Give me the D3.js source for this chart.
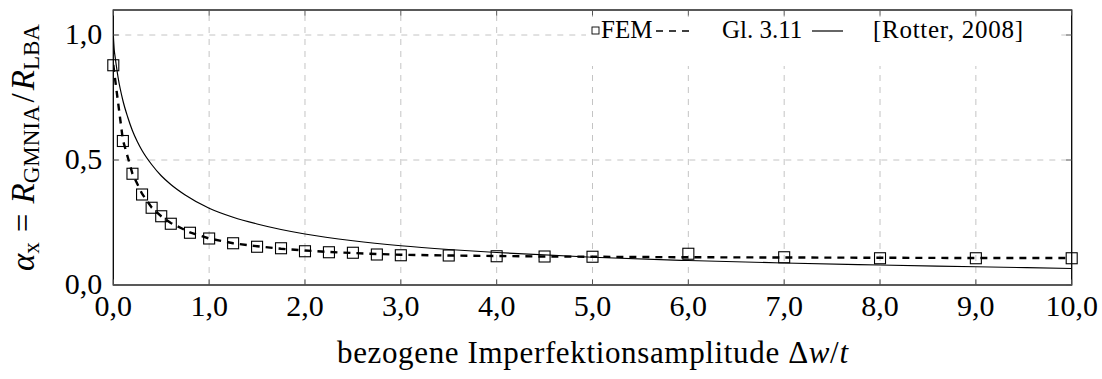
<!DOCTYPE html>
<html>
<head>
<meta charset="utf-8">
<script src="https://cdn.jsdelivr.net/npm/d3@7"></script>
<style>
html,body{margin:0;padding:0;background:#fff;}
svg{display:block;}
text{fill:#000;}
</style>
</head>
<body>
<svg id="c" width="1102" height="379" font-family="'Liberation Serif','Times New Roman',Times,serif"></svg>
<script>
// ---- data ----
const xTicks = [0,1,2,3,4,5,6,7,8,9,10];
const xTickLabels = ["0,0","1,0","2,0","3,0","4,0","5,0","6,0","7,0","8,0","9,0","10,0"];
const yTicks = [0,0.5,1.0];
const yTickLabels = ["0,0","0,5","1,0"];

const femX = [0,0.1,0.2,0.3,0.4,0.5,0.6,0.8,1.0,1.25,1.5,1.75,2.0,2.25,2.5,2.75,3.0,3.5,4.0,4.5,5.0,6.0,7.0,8.0,9.0,10.0];
const femY = [0.879,0.576,0.445,0.362,0.309,0.275,0.245,0.209,0.186,0.167,0.153,0.147,0.135,0.131,0.129,0.122,0.119,0.118,0.115,0.114,0.113,0.125,0.111,0.107,0.107,0.107];

const glX = [0,0.1,0.2,0.3,0.4,0.5,0.6,0.8,1.0,1.25,1.5,1.75,2.0,2.25,2.5,2.75,3.0,3.5,4.0,4.5,5.0,6.0,7.0,8.0,9.0,10.0];
const glY = [0.88,0.58,0.445,0.365,0.31,0.275,0.248,0.21,0.186,0.167,0.155,0.145,0.138,0.132,0.128,0.124,0.121,0.118,0.116,0.114,0.113,0.111,0.110,0.109,0.108,0.108];

const rotterX = [0,0.01,0.02,0.05,0.1,0.15,0.2,0.25,0.3,0.4,0.5,0.6,0.75,1.0,1.25,1.5,1.75,2.0,2.5,3.0,3.5,4.0,5.0,6.0,7.0,8.0,9.0,10.0];
const rotterY = [1.0,0.94,0.91,0.83,0.738,0.672,0.617,0.574,0.538,0.482,0.437,0.402,0.36,0.307,0.271,0.244,0.222,0.204,0.177,0.157,0.142,0.130,0.111,0.098,0.088,0.080,0.073,0.066];

const legendLabels = ["FEM","Gl. 3.11","[Rotter, 2008]"];

// ---- layout ----
const L = 113.3, R = 1071.7, T = 10, B = 285;
const svg = d3.select("#c");
const x = d3.scaleLinear().domain([0,10]).range([L,R]);
const y = d3.scaleLinear().domain([0,1.1]).range([B,T]);

// grid
const grid = svg.append("g").attr("stroke","#c4c4c4").attr("stroke-width",1).attr("stroke-dasharray","6,6");
xTicks.slice(1,-1).forEach(v=>{
  grid.append("line").attr("x1",x(v)).attr("x2",x(v)).attr("y1",B).attr("y2",T);
});
yTicks.slice(1).forEach(v=>{
  grid.append("line").attr("x1",L).attr("x2",R).attr("y1",y(v)).attr("y2",y(v));
});

// clip
svg.append("clipPath").attr("id","clip").append("rect").attr("x",L).attr("y",T).attr("width",R-L).attr("height",B-T);
const plot = svg.append("g").attr("clip-path","url(#clip)");

// Rotter solid
const rotter = rotterX.map((v,i)=>[v,rotterY[i]]);
plot.append("path").datum(rotter)
  .attr("d", d3.line().x(d=>x(d[0])).y(d=>y(d[1])).curve(d3.curveMonotoneX))
  .attr("fill","none").attr("stroke","#000").attr("stroke-width",1.2);

// Gl. 3.11 dashed
const gl = glX.map((v,i)=>[v,glY[i]]);
plot.append("path").datum(gl)
  .attr("d", d3.line().x(d=>x(d[0])).y(d=>y(d[1])))
  .attr("fill","none").attr("stroke","#000").attr("stroke-width",2.4).attr("stroke-dasharray","7,6");

// FEM squares
const fem = femX.map((v,i)=>[v,femY[i]]);
const ms = 11;
svg.append("g").selectAll("rect").data(fem).join("rect")
  .attr("x",d=>x(d[0])-ms/2).attr("y",d=>y(d[1])-ms/2)
  .attr("width",ms).attr("height",ms)
  .attr("fill","none").attr("stroke","#000").attr("stroke-width",1.1);

// legend
const lg = svg.append("g");
lg.append("rect").attr("x",586).attr("y",17).attr("width",472).attr("height",49).attr("fill","#fff");
const ly = 30, lfs = 25;
lg.append("rect").attr("x",592).attr("y",ly-3).attr("width",7).attr("height",7).attr("fill","none").attr("stroke","#000").attr("stroke-width",0.9);
lg.append("text").attr("x",601).attr("y",ly+8).attr("font-size",lfs).text(legendLabels[0]);
lg.append("line").attr("x1",656).attr("x2",689).attr("y1",ly+1).attr("y2",ly+1).attr("stroke","#000").attr("stroke-width",1.6).attr("stroke-dasharray","7,6");
lg.append("text").attr("x",722).attr("y",ly+8).attr("font-size",lfs).text(legendLabels[1]);
lg.append("line").attr("x1",812).attr("x2",843).attr("y1",ly+1).attr("y2",ly+1).attr("stroke","#000").attr("stroke-width",1.2);
lg.append("text").attr("x",873).attr("y",ly+8).attr("font-size",lfs).attr("textLength",150).attr("lengthAdjust","spacing").text(legendLabels[2]);

// frame
svg.append("rect").attr("x",L).attr("y",T).attr("width",R-L).attr("height",B-T)
  .attr("fill","none").attr("stroke","#000").attr("stroke-width",1.3);

// ticks (inside, all four sides)
const tk = svg.append("g").attr("stroke","#555").attr("stroke-width",1);
const tl = 5.5;
xTicks.forEach(v=>{
  tk.append("line").attr("x1",x(v)).attr("x2",x(v)).attr("y1",B).attr("y2",B-tl);
  tk.append("line").attr("x1",x(v)).attr("x2",x(v)).attr("y1",T).attr("y2",T+tl);
});
yTicks.forEach(v=>{
  tk.append("line").attr("x1",L).attr("x2",L+tl).attr("y1",y(v)).attr("y2",y(v));
  tk.append("line").attr("x1",R).attr("x2",R-tl).attr("y1",y(v)).attr("y2",y(v));
});

// tick labels
const tfs = 30;
svg.append("g").selectAll("text").data(xTicks).join("text")
  .attr("x",d=>x(d)).attr("y",B+31).attr("text-anchor","middle").attr("font-size",tfs)
  .text((d,i)=>xTickLabels[i]);
svg.append("g").selectAll("text").data(yTicks).join("text")
  .attr("x",L-11).attr("y",d=>y(d)+9).attr("text-anchor","end").attr("font-size",tfs)
  .text((d,i)=>yTickLabels[i]);

// x axis label
const xl = svg.append("text").attr("x",(L+R)/2).attr("y",363).attr("text-anchor","middle").attr("font-size",31)
  .attr("textLength",511).attr("lengthAdjust","spacing");
xl.append("tspan").text("bezogene Imperfektionsamplitude Δ");
xl.append("tspan").attr("font-style","italic").text("w");
xl.append("tspan").text("/");
xl.append("tspan").attr("font-style","italic").text("t");

// y axis label
const ylab = svg.append("text").attr("transform",`translate(34,${(T+B)/2}) rotate(-90)`)
  .attr("text-anchor","middle").attr("font-size",33);
ylab.append("tspan").attr("font-style","italic").text("α");
ylab.append("tspan").attr("font-size",23).attr("dy",5).text("x");
ylab.append("tspan").attr("dy",-5).attr("dx",10).text("=");
ylab.append("tspan").attr("dx",10).attr("font-style","italic").text("R");
ylab.append("tspan").attr("font-size",23).attr("dy",5).text("GMNIA");
ylab.append("tspan").attr("dy",-5).attr("dx",3).text("/");
ylab.append("tspan").attr("dx",3).attr("font-style","italic").text("R");
ylab.append("tspan").attr("font-size",23).attr("dy",5).text("LBA");
</script>
</body>
</html>
